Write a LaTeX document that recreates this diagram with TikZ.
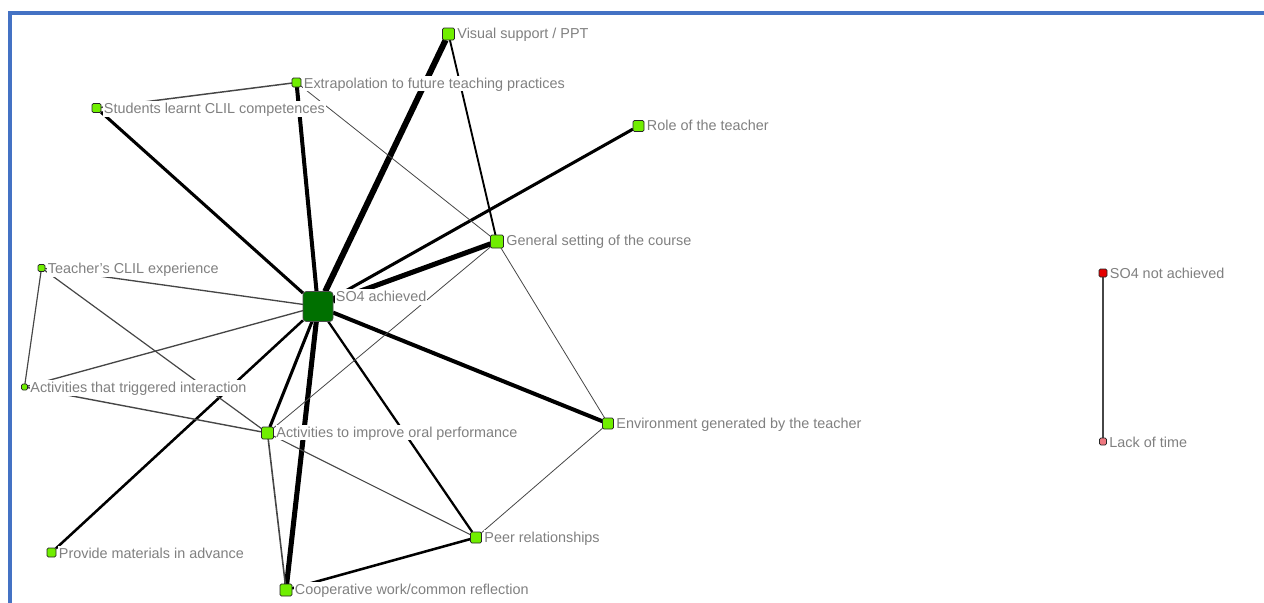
\documentclass[tikz,border=0pt]{standalone}
\usepackage{fontspec}
\setmainfont{Liberation Sans}
\usetikzlibrary{calc}
\pgfdeclarelayer{edgelayer}
\pgfdeclarelayer{labellayer}
\pgfsetlayers{edgelayer,labellayer,main}
\definecolor{codegreen}{RGB}{112,238,0}
\definecolor{hubgreen}{RGB}{0,112,0}
\definecolor{frameblue}{RGB}{68,114,196}
\definecolor{labelgray}{RGB}{128,128,128}
\definecolor{codered}{RGB}{228,0,0}
\definecolor{codepink}{RGB}{238,120,128}
\definecolor{thinline}{RGB}{70,70,70}

\begin{document}
\begin{tikzpicture}[x=0.75pt,y=-0.75pt,
  cnode/.style={draw=black!85, line width=0.6pt, fill=codegreen, rounded corners=1pt,
                minimum size=#1, inner sep=0pt, outer sep=0pt},
  hub/.style={draw=black!70, line width=0.6pt, fill=hubgreen, rounded corners=2.5pt,
              minimum size=22.5pt, inner sep=0pt, outer sep=0pt},
  lbl/.style={anchor=north west, fill=white, text=labelgray, font=\fontsize{10.8}{13}\selectfont,
              inner xsep=0.5pt, inner ysep=0.4pt, text height=9pt, text depth=1.8pt},
  edge/.style={line width=#1, black, line cap=butt},
  thin/.style={line width=#1, thinline, line cap=butt}]

\useasboundingbox (0,0) rectangle (1264,603);

% frame lines
\draw[frameblue, line width=3pt] (9.5,603) -- (9.5,13) -- (1264,13);

% code nodes
\node[hub] (hub) at (318,306.5) {};
\node[cnode=9pt]    (vis)   at (448.5,34) {};
\node[cnode=6.75pt] (extra) at (296.5,82.5) {};
\node[cnode=6.75pt] (stud)  at (96.5,108) {};
\node[cnode=8.25pt] (role)  at (638.5,126) {};
\node[cnode=9.75pt] (gen)   at (497,241.5) {};
\node[cnode=5.25pt] (teach) at (41.5,268) {};
\node[cnode=4.5pt]  (trig)  at (24.5,387) {};
\node[cnode=9pt]    (oral)  at (267.5,433) {};
\node[cnode=8.25pt] (env)   at (608,423.5) {};
\node[cnode=8.25pt] (peer)  at (476,537.5) {};
\node[cnode=6.75pt] (prov)  at (51.5,552.5) {};
\node[cnode=9pt]    (coop)  at (286,590) {};
\node[cnode=6pt, fill=codered]  (notach) at (1103,273) {};
\node[cnode=5.25pt, fill=codepink] (lack) at (1103,441.5) {};

% labels (white boxes hide the connectors behind them)
\begin{pgfonlayer}{labellayer}
\node[lbl] at ($(hub.north east)+(2,-2.5)$) {SO4 achieved};
\node[lbl] at ($(vis.north east)+(2,-2.5)$) {Visual support / PPT};
\node[lbl] at ($(extra.north east)+(2,-2.5)$) {Extrapolation to future teaching practices};
\node[lbl] at ($(stud.north east)+(2,-2.5)$) {Students learnt CLIL competences};
\node[lbl] at ($(role.north east)+(2,-2.5)$) {Role of the teacher};
\node[lbl] at ($(gen.north east)+(2,-2.5)$) {General setting of the course};
\node[lbl] at ($(teach.north east)+(2,-3.5)$) {Teacher's CLIL experience};
\node[lbl] at ($(trig.north east)+(2,-4)$) {Activities that triggered interaction};
\node[lbl] at ($(oral.north east)+(2,-2.5)$) {Activities to improve oral performance};
\node[lbl] at ($(env.north east)+(2,-2.5)$) {Environment generated by the teacher};
\node[lbl] at ($(peer.north east)+(2,-2.5)$) {Peer relationships};
\node[lbl] at ($(prov.north east)+(2,-2.5)$) {Provide materials in advance};
\node[lbl] at ($(coop.north east)+(2,-2.5)$) {Cooperative work/common reflection};
\node[lbl] at ($(notach.north east)+(2,-3)$) {SO4 not achieved};
\node[lbl] at ($(lack.north east)+(2,-3.5)$) {Lack of time};
\end{pgfonlayer}

% connectors
\begin{pgfonlayer}{edgelayer}
\draw[edge=4.5pt] (hub) -- (vis);
\draw[edge=3.8pt] (hub) -- (gen);
\draw[edge=3.8pt] (hub) -- (coop);
\draw[edge=3pt]   (hub) -- (extra);
\draw[edge=3pt]   (hub) -- (env);
\draw[edge=2.3pt] (hub) -- (stud);
\draw[edge=2.3pt] (hub) -- (role);
\draw[edge=2.3pt] (hub) -- (oral);
\draw[edge=1.9pt] (hub) -- (prov);
\draw[edge=1.7pt] (hub) -- (peer);
\draw[edge=1.9pt] (peer) -- (coop);
\draw[edge=1.4pt] (vis) -- (gen);
\draw[thin=1.2pt] (oral) -- (coop);
\draw[thin=1.1pt] (stud) -- (extra);
\draw[thin=1.05pt] (trig) -- (oral);
\draw[thin=1pt]   (hub) -- (teach);
\draw[thin=1pt]   (hub) -- (trig);
\draw[thin=0.9pt] (teach) -- (trig);
\draw[thin=0.9pt] (teach) -- (oral);
\draw[thin=0.8pt] (oral) -- (peer);
\draw[thin=0.6pt] (extra) -- (gen);
\draw[thin=0.6pt] (gen) -- (oral);
\draw[thin=0.6pt] (gen) -- (env);
\draw[thin=0.6pt] (env) -- (peer);
\draw[thin=1pt]   (notach) -- (lack);
\end{pgfonlayer}
\end{tikzpicture}
\end{document}
